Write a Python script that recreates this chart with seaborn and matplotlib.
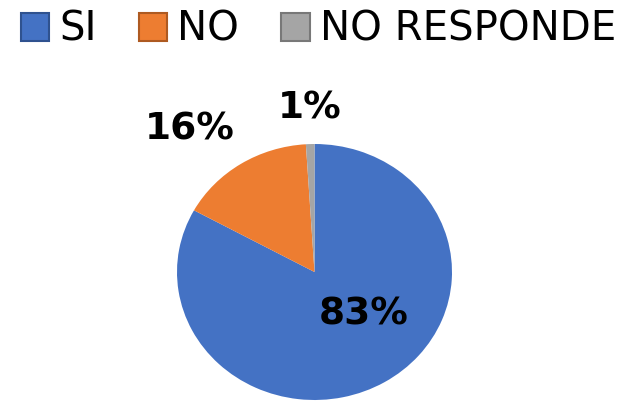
import matplotlib
matplotlib.use("Agg")
import matplotlib.pyplot as plt
import seaborn as sns
from matplotlib.patches import Patch

# Datos
categorias = ["SI", "NO", "NO RESPONDE"]
valores = [83, 16, 1]
etiquetas = ["83%", "16%", "1%"]
colores = ["#4472C4", "#ED7D31", "#A5A5A5"]
bordes = ["#2F528F", "#AE5A21", "#787878"]

sns.set_theme(style="white")
plt.rcParams["font.family"] = ["DejaVu Sans"]
plt.rcParams["text.color"] = "black"

fig = plt.figure(figsize=(6.43, 4.13), dpi=100)
ax = fig.add_axes([177 / 643, 13 / 413, 275 / 643, 256 / 413])

wedges, _ = ax.pie(valores, colors=colores, startangle=90, counterclock=False,
                   wedgeprops=dict(linewidth=0))
ax.set_aspect("auto")
ax.set_xlim(-1, 1)
ax.set_ylim(-1, 1)
ax.axis("off")

# posiciones de etiquetas (unidades de radio)
pos = [(0.36, -0.33), (-0.905, 1.11), (-0.036, 1.28)]
for (x, y), t in zip(pos, etiquetas):
    ax.text(x, y, t, ha="center", va="center", fontsize=27, fontweight="bold",
            color="black", clip_on=False)

handles = [Patch(facecolor=c, edgecolor=b, linewidth=1.5) for c, b in zip(colores, bordes)]
leg = fig.legend(handles, categorias, loc="upper left", bbox_to_anchor=(-0.005, 1.035), ncol=3,
                 frameon=False, fontsize=29, handlelength=0.7, handleheight=0.7,
                 handletextpad=0.25, columnspacing=1.05, borderaxespad=0.2)
for t in leg.get_texts():
    t.set_color("black")

fig.savefig("out.png", dpi=100)
